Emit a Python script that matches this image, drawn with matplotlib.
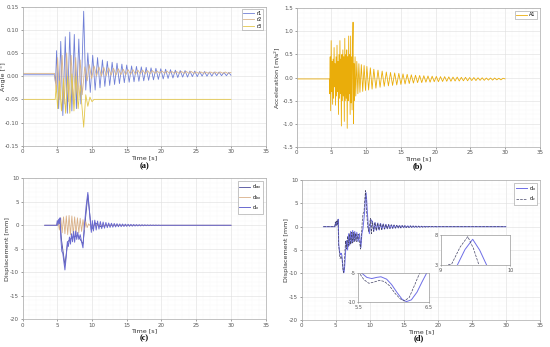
import numpy as np
import matplotlib
matplotlib.use('Agg')
import matplotlib.pyplot as plt
from matplotlib.ticker import MultipleLocator, AutoMinorLocator

plt.rcParams['font.family'] = ['DejaVu Sans']
plt.rcParams['axes.unicode_minus'] = False

# ---- (a) angles ----
r1_t = [0, 4.6, 4.75, 4.9, 5.2, 5.5, 5.8, 6.15, 6.45, 6.8, 7.1, 7.45, 7.75, 8.1, 8.4, 8.8, 9.1, 9.4, 9.75,
        10.1, 10.45, 10.8, 11.15, 11.5, 11.85, 12.2, 12.55, 12.9, 13.25, 13.6, 13.95, 14.3, 14.65, 15.0, 15.35,
        15.7, 16.05, 16.4, 16.75, 17.1, 17.45, 17.8, 18.15, 18.5, 18.85, 19.2, 19.55, 19.9, 20.25, 20.6, 20.95,
        21.3, 21.65, 22.0, 22.35, 22.7, 23.05, 23.4, 23.75, 24.1, 24.45, 24.8, 25.15, 25.5, 25.85, 26.2, 26.55,
        26.9, 27.25, 27.6, 27.95, 28.3, 28.65, 29.0, 29.35, 29.7, 30.0]
r1_v = [0.003, 0.003, -0.015, 0.055, -0.07, 0.075, -0.085, 0.085, -0.08, 0.095, -0.075, 0.09, -0.07, 0.08, -0.06,
        0.14, -0.03, 0.05, -0.035, 0.045, -0.03, 0.04, -0.025, 0.035, -0.022, 0.032, -0.02, 0.03, -0.018, 0.028,
        -0.016, 0.026, -0.014, 0.024, -0.013, 0.022, -0.012, 0.021, -0.011, 0.02, -0.01, 0.019, -0.009, 0.018,
        -0.008, 0.017, -0.007, 0.016, -0.006, 0.015, -0.005, 0.014, -0.004, 0.013, -0.003, 0.012, -0.002, 0.012,
        -0.002, 0.011, -0.001, 0.011, -0.001, 0.01, 0.0, 0.01, 0.0, 0.009, 0.0, 0.009, 0.001, 0.009, 0.001,
        0.008, 0.001, 0.008, 0.002]

r2_t = [0, 4.6, 4.85, 5.05, 5.35, 5.7, 6.0, 6.35, 6.65, 7.0, 7.3, 7.65, 7.95, 8.3, 8.6, 8.95, 9.3, 9.6, 9.95,
        10.3, 10.65, 11.0, 11.35, 11.7, 12.05, 12.4, 12.75, 13.1, 13.45, 13.8, 14.15, 14.5, 14.85, 15.2, 15.55,
        15.9, 16.25, 16.6, 16.95, 17.3, 17.65, 18.0, 18.35, 18.7, 19.05, 19.4, 19.75, 20.1, 20.45, 20.8, 21.15,
        21.5, 21.85, 22.2, 22.55, 22.9, 23.25, 23.6, 23.95, 24.3, 24.65, 25.0, 25.35, 25.7, 26.05, 26.4, 26.75,
        27.1, 27.45, 27.8, 28.15, 28.5, 28.85, 29.2, 29.55, 30.0]
r2_v = [0.006, 0.006, -0.03, 0.04, -0.05, 0.045, -0.06, 0.05, -0.055, 0.045, -0.06, 0.04, -0.05, 0.035, -0.04,
        0.02, -0.01, 0.025, -0.005, 0.022, 0.0, 0.02, 0.0, 0.019, 0.001, 0.018, 0.002, 0.017, 0.002, 0.016,
        0.003, 0.015, 0.003, 0.014, 0.004, 0.014, 0.004, 0.013, 0.005, 0.013, 0.005, 0.012, 0.005, 0.012, 0.006,
        0.011, 0.006, 0.011, 0.006, 0.011, 0.006, 0.01, 0.006, 0.01, 0.006, 0.01, 0.006, 0.01, 0.006, 0.01,
        0.006, 0.009, 0.006, 0.009, 0.006, 0.009, 0.006, 0.009, 0.006, 0.009, 0.006, 0.009, 0.006, 0.009, 0.006,
        0.008]

r3_t = [0, 4.7, 4.85, 5.05, 5.3, 5.6, 5.9, 6.2, 6.5, 6.8, 7.1, 7.4, 7.7, 8.0, 8.3, 8.8, 9.1, 9.4, 9.7, 10.0,
        10.3, 30.0]
r3_v = [-0.05, -0.05, -0.02, -0.07, -0.01, -0.075, -0.005, -0.08, 0.0, -0.08, 0.005, -0.075, 0.0, -0.07, -0.02,
        -0.11, -0.04, -0.065, -0.045, -0.055, -0.05, -0.05]

# ---- (b) acceleration ----
a1_t = [0, 4.7, 4.75, 4.82, 4.89, 4.96, 5.03, 5.10, 5.17, 5.24, 5.31, 5.38, 5.45, 5.52, 5.59, 5.66, 5.73,
        5.80, 5.87, 5.94, 6.01, 6.08, 6.15, 6.22, 6.29, 6.36, 6.43, 6.50, 6.57, 6.64, 6.71, 6.78, 6.85, 6.92,
        6.99, 7.06, 7.13, 7.20, 7.27, 7.34, 7.41, 7.48, 7.55, 7.62, 7.69, 7.76, 7.83, 7.90, 7.97, 8.04, 8.11,
        8.18, 8.25, 8.32, 8.40, 8.5, 8.65, 8.8, 8.95, 9.1, 9.3, 9.5, 9.7, 9.9, 10.1, 10.35, 10.6, 10.85, 11.1,
        11.4, 11.7, 12.0, 12.3, 12.6, 12.9, 13.2, 13.5, 13.8, 14.1, 14.4, 14.7, 15.0, 15.3, 15.6, 15.9, 16.2,
        16.5, 16.8, 17.1, 17.4, 17.7, 18.0, 18.3, 18.6, 18.9, 19.2, 19.5, 19.8, 20.1, 20.4, 20.7, 21.0, 21.3,
        21.6, 21.9, 22.2, 22.5, 22.8, 23.1, 23.4, 23.7, 24.0, 24.3, 24.6, 24.9, 25.2, 25.5, 25.8, 26.1, 26.4,
        26.7, 27.0, 27.3, 27.6, 27.9, 28.2, 28.5, 28.8, 29.1, 29.4, 29.7, 30.0]
a1_v = [-0.03, -0.03, -0.35, 0.45, -0.72, 0.8, -0.3, 0.35, -0.58, 0.4, -0.45, 0.65, -0.2, 0.3, -0.6, 0.45,
        -0.4, 0.7, -0.3, 0.35, -0.8, 0.5, -0.45, 0.8, -0.35, 0.4, -1.05, 0.5, -0.5, 0.6, -0.4, 0.45, -0.95,
        0.85, -0.5, 0.5, -0.45, 0.6, -1.1, 0.45, -0.5, 0.9, -0.35, 0.5, -0.8, 0.9, -0.55, 0.45, -0.7, 0.6,
        1.2, -1.0, 0.3, -0.5, 0.45, -0.4, 0.35, -0.35, 0.3, -0.32, 0.28, -0.3, 0.26, -0.28, 0.24, -0.27, 0.21,
        -0.25, 0.18, -0.23, 0.16, -0.21, 0.14, -0.19, 0.12, -0.18, 0.11, -0.17, 0.1, -0.16, 0.09, -0.15, 0.08,
        -0.14, 0.07, -0.13, 0.06, -0.12, 0.05, -0.11, 0.045, -0.11, 0.04, -0.1, 0.035, -0.1, 0.03, -0.09,
        0.025, -0.09, 0.02, -0.085, 0.02, -0.08, 0.015, -0.08, 0.01, -0.075, 0.01, -0.075, 0.005, -0.07, 0.005,
        -0.07, 0.0, -0.065, 0.0, -0.065, -0.005, -0.06, -0.005, -0.06, -0.01, -0.055, -0.01, -0.055,
        -0.01, -0.05, -0.015, -0.05, -0.015, -0.03]

# ---- shared decay tail for displacement (t >= 10.4) ----
tail_t = [10.4, 10.6, 10.8, 11.0, 11.2, 11.4, 11.6, 11.8, 12.0, 12.2, 12.4, 12.6, 12.8, 13.0, 13.2, 13.4, 13.6,
          13.8, 14.0, 14.2, 14.4, 14.6, 14.8, 15.0, 15.2, 15.4, 15.6, 15.8, 16.0, 16.2, 16.4, 16.6, 16.8, 17.0,
          17.2, 17.4, 17.6, 17.8, 18.0, 18.2, 18.4, 18.6, 18.8, 19.0, 19.2, 19.4, 19.6, 19.8, 20.0, 30.0]
tail_v = [1.1, -1.0, 0.9, -0.8, 0.8, -0.7, 0.7, -0.6, 0.6, -0.5, 0.5, -0.45, 0.45, -0.4, 0.4, -0.35, 0.35,
          -0.3, 0.3, -0.28, 0.28, -0.25, 0.25, -0.22, 0.22, -0.2, 0.2, -0.18, 0.18, -0.15, 0.15, -0.13, 0.13,
          -0.12, 0.12, -0.1, 0.1, -0.08, 0.08, -0.07, 0.07, -0.05, 0.05, -0.04, 0.04, -0.03, 0.03, -0.02, 0.0, 0.0]

# ---- (c) displacement components ----
dx_t = [3.2, 4.9, 5.0, 5.1, 5.2, 5.3, 5.4, 5.5, 5.65, 5.8, 6.1, 6.3, 6.45, 6.6, 6.75, 6.9, 7.05, 7.2, 7.35, 7.5,
        7.65, 7.8, 7.95, 8.1, 8.3, 8.5, 8.7, 8.85, 9.0, 9.15, 9.4, 9.6, 9.75, 9.9, 10.05, 10.2] + tail_t
dx_v = [0, 0, 1.0, 0.2, 1.3, 0.4, 1.6, -2.5, -5.5, -6.0, -9.5, -6.5, -3.5, -4.5, -2.5, -4.0, -1.8, -3.5, -1.3,
        -3.6, -1.2, -3.0, -1.5, -3.0, -2.0, -3.5, -4.8, -1.0, 1.5, 4.0, 7.0, 3.5, 1.0, -1.5, 1.0, -1.2] + tail_v

dax_t = [3.2, 5.0, 5.4, 5.6, 6.1, 6.5, 7.2, 8.0, 8.7, 9.4, 9.9, 10.5, 11.2, 12.0, 30.0]
dax_v = [0, 0, 0.8, -3.0, -8.5, -3.5, -2.5, -2.2, -4.0, 6.5, -1.0, 0.5, -0.3, 0.0, 0.0]

dbx_t = [3.2, 4.9, 5.1, 5.3, 5.5, 5.7, 5.9, 6.1, 6.3, 6.5, 6.7, 6.9, 7.1, 7.3, 7.5, 7.7, 7.9, 8.1, 8.3, 8.5,
         8.7, 8.9, 9.1, 9.3, 9.5, 9.7, 30.0]
dbx_v = [0, 0, 1.0, -1.0, 1.6, -1.6, 1.8, -1.8, 2.0, -2.0, 2.1, -2.0, 2.0, -2.0, 1.8, -1.8, 1.6, -1.6, 1.5,
         -1.3, 1.2, -1.0, 0.8, -0.5, 0.3, 0.0, 0.0]

# ---- (d) measured vs computed ----
ds_t = [3.2, 4.9, 5.0, 5.1, 5.2, 5.3, 5.38, 5.45, 5.54, 5.62, 5.69, 5.76, 5.82, 5.9, 5.97, 6.05, 6.12, 6.18,
        6.25, 6.33, 6.4, 6.47, 6.55, 6.62, 6.75, 6.9, 7.05, 7.2, 7.35, 7.5, 7.65, 7.8, 7.95, 8.1, 8.3, 8.5, 8.7,
        8.85, 9.0, 9.12, 9.24, 9.35, 9.46, 9.56, 9.66, 9.8, 9.95, 10.2] + tail_t
ds_v = [0, 0, 1.0, 0.3, 1.2, 0.5, 1.6, -3.8, -5.0, -5.8, -6.0, -5.8, -5.7, -6.1, -7.0, -8.4, -9.5, -9.9,
        -9.6, -8.3, -6.6, -5.0, -3.6, -3.0, -5.0, -1.5, -4.0, -1.0, -3.5, -0.8, -3.2, -1.0, -3.0, -1.2, -3.2,
        -1.5, -4.5, -1.5, -0.5, 1.2, 3.0, 5.6, 7.3, 5.5, 3.0, 0.0, -1.5, 1.5] + tail_v

dc_t = [3.2, 4.85, 4.95, 5.05, 5.15, 5.25, 5.33, 5.42, 5.51, 5.58, 5.65, 5.72, 5.8, 5.87, 5.94, 6.02, 6.09,
        6.15, 6.22, 6.3, 6.37, 6.45, 6.6, 6.75, 6.9, 7.05, 7.2, 7.35, 7.5, 7.65, 7.8, 7.95, 8.1, 8.3, 8.5,
        8.65, 8.8, 8.92, 9.02, 9.1, 9.16, 9.28, 9.39, 9.47, 9.55, 9.7, 9.85, 10.1, 10.25] \
    + [t - 0.05 for t in tail_t[:-1]] + [30.0]
dc_v = [0, 0, 1.0, 0.3, 1.2, 0.5, 1.5, -3.5, -5.0, -6.2, -6.8, -6.6, -6.3, -6.5, -7.2, -8.5, -9.4, -9.8,
        -9.2, -7.0, -5.0, -3.0, -4.8, -2.0, -4.2, -1.5, -3.8, -1.2, -3.5, -1.2, -3.2, -1.4, -3.2, -1.6, -3.2,
        -4.8, -1.5, 1.5, 2.8, 3.0, 3.2, 6.0, 7.75, 5.8, 3.0, 0.0, -1.0, 1.8, -1.5] + tail_v

TICK_FS = 4
LABEL_FS = 4.6


def style_axes(ax, xlabel, ylabel, ylim, ystep, yfmt, ylab_x):
    ax.set_xlim(0, 35)
    ax.set_ylim(*ylim)
    ax.xaxis.set_major_locator(MultipleLocator(5))
    ax.yaxis.set_major_locator(MultipleLocator(ystep))
    ax.xaxis.set_minor_locator(AutoMinorLocator(5))
    ax.yaxis.set_minor_locator(AutoMinorLocator(5))
    ax.yaxis.set_major_formatter(plt.FuncFormatter(lambda v, p: yfmt.format(v)))
    ax.grid(True, which='major', color='#dedede', linewidth=0.4)
    ax.grid(True, which='minor', color='#efefef', linewidth=0.3, linestyle=':')
    ax.set_axisbelow(True)
    ax.tick_params(labelsize=TICK_FS, colors='#555555', length=1.5, width=0.4, pad=1)
    ax.tick_params(which='minor', length=0)
    for s in ax.spines.values():
        s.set_color('#aaaaaa')
        s.set_linewidth(0.5)
    ax.set_xlabel(xlabel, fontsize=LABEL_FS, labelpad=0.5, color='#333333')
    ax.set_ylabel(ylabel, fontsize=LABEL_FS, color='#333333')
    ax.yaxis.set_label_coords(ylab_x, 0.5)


def small_legend(ax):
    leg = ax.legend(loc='upper right', fontsize=3.6, handlelength=2.2, handletextpad=0.4,
                    borderpad=0.3, labelspacing=0.3, framealpha=1, fancybox=False)
    leg.get_frame().set_linewidth(0.4)
    leg.get_frame().set_edgecolor('#999999')
    return leg


fig = plt.figure(figsize=(5.5, 3.47), dpi=100)

ax_a = fig.add_axes([0.041, 0.580, 0.442, 0.401])
ax_a.plot(r1_t, r1_v, color='#6f7fd6', lw=0.6, label='r1')
ax_a.plot(r2_t, r2_v, color='#d8b48a', lw=0.6, label='r2')
ax_a.plot(r3_t, r3_v, color='#e3c64a', lw=0.6, label='r3')
style_axes(ax_a, 'Time [s]', 'Angle [°]', (-0.15, 0.15), 0.05, '{:.2f}', -0.07)
small_legend(ax_a)

ax_b = fig.add_axes([0.5395, 0.577, 0.442, 0.399])
ax_b.plot(a1_t, a1_v, color='#eaad0a', lw=0.6, label='A1')
style_axes(ax_b, 'Time [s]', 'Acceleration [m/s$^2$]', (-1.5, 1.5), 0.5, '{:.1f}', -0.06)
small_legend(ax_b)

ax_c = fig.add_axes([0.041, 0.080, 0.442, 0.406])
ax_c.plot(dax_t, dax_v, color='#4a4a9a', lw=0.6, label='d$_{ax}$')
ax_c.plot(dbx_t, dbx_v, color='#d9b088', lw=0.6, label='d$_{bx}$')
ax_c.plot(dx_t, dx_v, color='#6a6ad0', lw=0.7, label='d$_{x}$')
style_axes(ax_c, 'Time [s]', 'Displacement [mm]', (-20, 10), 5, '{:.0f}', -0.05)
small_legend(ax_c)

ax_d = fig.add_axes([0.5485, 0.078, 0.433, 0.403])
ax_d.plot(ds_t, ds_v, color='#6e6ee6', lw=0.7, label='d$_{x}$')
ax_d.plot(dc_t, dc_v, color='#444466', lw=0.5, ls='--', label='d$_{c}$')
style_axes(ax_d, 'Time [s]', 'Displacement [mm]', (-20, 10), 5, '{:.0f}', -0.055)
small_legend(ax_d)

# insets in (d)
for rect, xl, yl in [([0.801, 0.236, 0.127, 0.0865], (9, 10), (3, 8)),
                     ([0.6515, 0.129, 0.1285, 0.0853], (5.5, 6.5), (-10, -5))]:
    ins = fig.add_axes(rect)
    ins.plot(ds_t, ds_v, color='#6e6ee6', lw=0.7)
    ins.plot(dc_t, dc_v, color='#444466', lw=0.5, ls='--')
    ins.set_xlim(*xl)
    ins.set_ylim(*yl)
    ins.set_xticks(list(xl))
    ins.set_yticks(list(yl))
    ins.xaxis.set_major_formatter(plt.FuncFormatter(lambda v, p: '{:g}'.format(v)))
    ins.tick_params(labelsize=3.6, colors='#555555', length=1, width=0.4, pad=1)
    for s in ins.spines.values():
        s.set_color('#999999')
        s.set_linewidth(0.5)

for x, y, lab in [(0.262, 0.522, '(a)'), (0.760, 0.522, '(b)'),
                  (0.262, 0.024, '(c)'), (0.762, 0.024, '(d)')]:
    fig.text(x, y, lab, ha='center', va='center', fontsize=6, fontweight='bold',
             family='Liberation Serif')

fig.savefig('out.png', dpi=100)
